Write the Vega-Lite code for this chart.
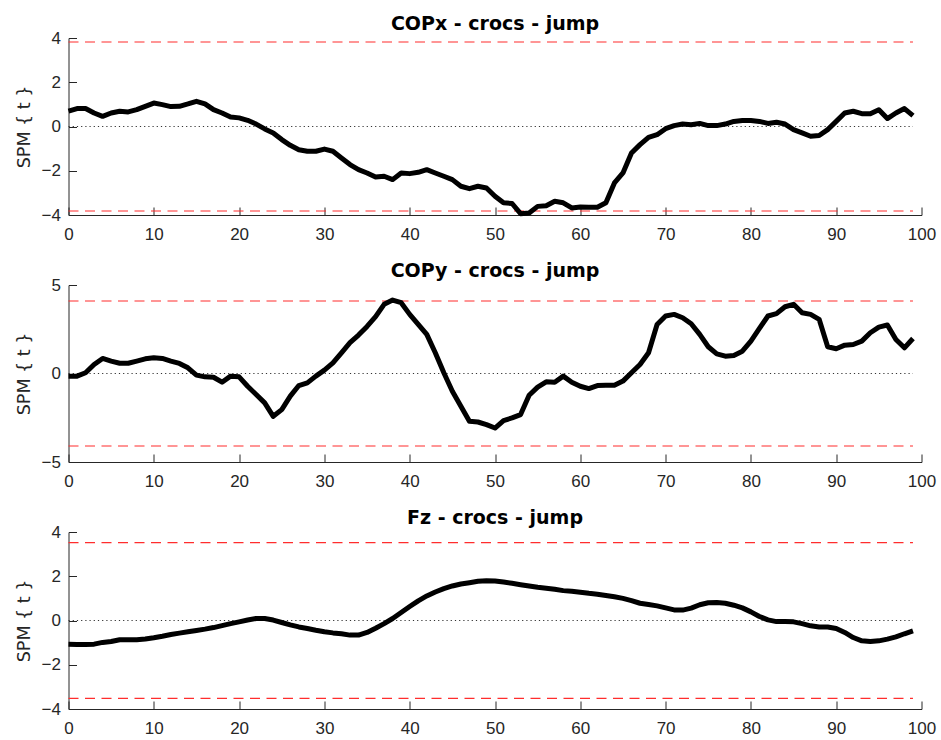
{
  "$schema": "https://vega.github.io/schema/vega-lite/v6.json",
  "background": "white",
  "padding": {"left": 15.5, "top": 14, "right": 5, "bottom": 3},
  "spacing": 70,
  "bounds": "flush",
  "config": {
    "view": {"stroke": null},
    "axis": {
      "grid": false,
      "labelFont": "Liberation Sans",
      "labelFontSize": 17,
      "labelColor": "#262626",
      "domainColor": "#262626",
      "domainWidth": 1,
      "tickColor": "#262626",
      "tickWidth": 1,
      "tickSize": -8,
      "labelFlush": false
    },
    "title": {"font": "DejaVu Sans", "fontSize": 19, "fontWeight": "bold", "color": "black", "offset": -4.8, "anchor": "middle", "frame": "group"}
  },
  "datasets": {
    "copx": [
      {"t":0,"v":0.69},{"t":1,"v":0.81},{"t":2,"v":0.81},{"t":3,"v":0.61},{"t":4,"v":0.46},{"t":5,"v":0.61},{"t":6,"v":0.69},{"t":7,"v":0.66},{"t":8,"v":0.76},{"t":9,"v":0.91},
      {"t":10,"v":1.06},{"t":11,"v":0.99},{"t":12,"v":0.90},{"t":13,"v":0.91},{"t":14,"v":1.02},{"t":15,"v":1.14},{"t":16,"v":1.02},{"t":17,"v":0.76},{"t":18,"v":0.61},{"t":19,"v":0.43},
      {"t":20,"v":0.39},{"t":21,"v":0.28},{"t":22,"v":0.11},{"t":23,"v":-0.11},{"t":24,"v":-0.29},{"t":25,"v":-0.59},{"t":26,"v":-0.85},{"t":27,"v":-1.05},{"t":28,"v":-1.12},{"t":29,"v":-1.12},
      {"t":30,"v":-1.02},{"t":31,"v":-1.12},{"t":32,"v":-1.42},{"t":33,"v":-1.72},{"t":34,"v":-1.95},{"t":35,"v":-2.10},{"t":36,"v":-2.28},{"t":37,"v":-2.25},{"t":38,"v":-2.40},{"t":39,"v":-2.10},
      {"t":40,"v":-2.13},{"t":41,"v":-2.07},{"t":42,"v":-1.95},{"t":43,"v":-2.10},{"t":44,"v":-2.25},{"t":45,"v":-2.40},{"t":46,"v":-2.70},{"t":47,"v":-2.81},{"t":48,"v":-2.70},{"t":49,"v":-2.78},
      {"t":50,"v":-3.15},{"t":51,"v":-3.45},{"t":52,"v":-3.48},{"t":53,"v":-3.94},{"t":54,"v":-3.91},{"t":55,"v":-3.61},{"t":56,"v":-3.58},{"t":57,"v":-3.38},{"t":58,"v":-3.45},{"t":59,"v":-3.68},
      {"t":60,"v":-3.64},{"t":61,"v":-3.65},{"t":62,"v":-3.65},{"t":63,"v":-3.45},{"t":64,"v":-2.55},{"t":65,"v":-2.10},{"t":66,"v":-1.20},{"t":67,"v":-0.82},{"t":68,"v":-0.49},{"t":69,"v":-0.37},
      {"t":70,"v":-0.10},{"t":71,"v":0.04},{"t":72,"v":0.11},{"t":73,"v":0.08},{"t":74,"v":0.14},{"t":75,"v":0.04},{"t":76,"v":0.04},{"t":77,"v":0.11},{"t":78,"v":0.23},{"t":79,"v":0.27},
      {"t":80,"v":0.27},{"t":81,"v":0.23},{"t":82,"v":0.14},{"t":83,"v":0.19},{"t":84,"v":0.11},{"t":85,"v":-0.14},{"t":86,"v":-0.29},{"t":87,"v":-0.44},{"t":88,"v":-0.41},{"t":89,"v":-0.14},
      {"t":90,"v":0.23},{"t":91,"v":0.61},{"t":92,"v":0.69},{"t":93,"v":0.58},{"t":94,"v":0.58},{"t":95,"v":0.76},{"t":96,"v":0.36},{"t":97,"v":0.61},{"t":98,"v":0.81},{"t":99,"v":0.49}
    ],
    "copy": [
      {"t":0,"v":-0.15},{"t":1,"v":-0.15},{"t":2,"v":0.04},{"t":3,"v":0.51},{"t":4,"v":0.85},{"t":5,"v":0.70},{"t":6,"v":0.58},{"t":7,"v":0.58},{"t":8,"v":0.70},{"t":9,"v":0.83},
      {"t":10,"v":0.89},{"t":11,"v":0.85},{"t":12,"v":0.70},{"t":13,"v":0.57},{"t":14,"v":0.32},{"t":15,"v":-0.09},{"t":16,"v":-0.19},{"t":17,"v":-0.21},{"t":18,"v":-0.49},{"t":19,"v":-0.15},
      {"t":20,"v":-0.19},{"t":21,"v":-0.72},{"t":22,"v":-1.19},{"t":23,"v":-1.66},{"t":24,"v":-2.42},{"t":25,"v":-2.04},{"t":26,"v":-1.28},{"t":27,"v":-0.68},{"t":28,"v":-0.53},{"t":29,"v":-0.15},
      {"t":30,"v":0.19},{"t":31,"v":0.60},{"t":32,"v":1.17},{"t":33,"v":1.74},{"t":34,"v":2.17},{"t":35,"v":2.66},{"t":36,"v":3.21},{"t":37,"v":3.91},{"t":38,"v":4.15},{"t":39,"v":4.00},
      {"t":40,"v":3.34},{"t":41,"v":2.77},{"t":42,"v":2.21},{"t":43,"v":1.17},{"t":44,"v":0.04},{"t":45,"v":-1.00},{"t":46,"v":-1.85},{"t":47,"v":-2.70},{"t":48,"v":-2.74},{"t":49,"v":-2.89},
      {"t":50,"v":-3.08},{"t":51,"v":-2.66},{"t":52,"v":-2.51},{"t":53,"v":-2.32},{"t":54,"v":-1.23},{"t":55,"v":-0.77},{"t":56,"v":-0.47},{"t":57,"v":-0.49},{"t":58,"v":-0.15},{"t":59,"v":-0.49},
      {"t":60,"v":-0.72},{"t":61,"v":-0.85},{"t":62,"v":-0.68},{"t":63,"v":-0.66},{"t":64,"v":-0.66},{"t":65,"v":-0.43},{"t":66,"v":0.04},{"t":67,"v":0.51},{"t":68,"v":1.17},{"t":69,"v":2.77},
      {"t":70,"v":3.25},{"t":71,"v":3.34},{"t":72,"v":3.15},{"t":73,"v":2.81},{"t":74,"v":2.21},{"t":75,"v":1.51},{"t":76,"v":1.11},{"t":77,"v":0.98},{"t":78,"v":1.02},{"t":79,"v":1.26},
      {"t":80,"v":1.83},{"t":81,"v":2.55},{"t":82,"v":3.25},{"t":83,"v":3.38},{"t":84,"v":3.77},{"t":85,"v":3.91},{"t":86,"v":3.43},{"t":87,"v":3.34},{"t":88,"v":3.06},{"t":89,"v":1.51},
      {"t":90,"v":1.40},{"t":91,"v":1.60},{"t":92,"v":1.64},{"t":93,"v":1.83},{"t":94,"v":2.30},{"t":95,"v":2.62},{"t":96,"v":2.74},{"t":97,"v":1.92},{"t":98,"v":1.45},{"t":99,"v":1.98}
    ],
    "fz": [
      {"t":0,"v":-1.07},{"t":1,"v":-1.08},{"t":2,"v":-1.08},{"t":3,"v":-1.07},{"t":4,"v":-0.99},{"t":5,"v":-0.95},{"t":6,"v":-0.87},{"t":7,"v":-0.87},{"t":8,"v":-0.87},{"t":9,"v":-0.84},
      {"t":10,"v":-0.78},{"t":11,"v":-0.71},{"t":12,"v":-0.63},{"t":13,"v":-0.57},{"t":14,"v":-0.51},{"t":15,"v":-0.45},{"t":16,"v":-0.39},{"t":17,"v":-0.32},{"t":18,"v":-0.23},{"t":19,"v":-0.14},
      {"t":20,"v":-0.06},{"t":21,"v":0.02},{"t":22,"v":0.09},{"t":23,"v":0.09},{"t":24,"v":0.02},{"t":25,"v":-0.09},{"t":26,"v":-0.20},{"t":27,"v":-0.29},{"t":28,"v":-0.36},{"t":29,"v":-0.44},
      {"t":30,"v":-0.51},{"t":31,"v":-0.56},{"t":32,"v":-0.60},{"t":33,"v":-0.66},{"t":34,"v":-0.66},{"t":35,"v":-0.54},{"t":36,"v":-0.35},{"t":37,"v":-0.14},{"t":38,"v":0.09},{"t":39,"v":0.36},
      {"t":40,"v":0.63},{"t":41,"v":0.89},{"t":42,"v":1.11},{"t":43,"v":1.29},{"t":44,"v":1.44},{"t":45,"v":1.56},{"t":46,"v":1.65},{"t":47,"v":1.71},{"t":48,"v":1.77},{"t":49,"v":1.80},
      {"t":50,"v":1.79},{"t":51,"v":1.74},{"t":52,"v":1.68},{"t":53,"v":1.62},{"t":54,"v":1.56},{"t":55,"v":1.50},{"t":56,"v":1.46},{"t":57,"v":1.41},{"t":58,"v":1.35},{"t":59,"v":1.32},
      {"t":60,"v":1.28},{"t":61,"v":1.23},{"t":62,"v":1.19},{"t":63,"v":1.13},{"t":64,"v":1.07},{"t":65,"v":1.00},{"t":66,"v":0.90},{"t":67,"v":0.78},{"t":68,"v":0.72},{"t":69,"v":0.66},
      {"t":70,"v":0.57},{"t":71,"v":0.48},{"t":72,"v":0.47},{"t":73,"v":0.56},{"t":74,"v":0.71},{"t":75,"v":0.80},{"t":76,"v":0.81},{"t":77,"v":0.78},{"t":78,"v":0.69},{"t":79,"v":0.57},
      {"t":80,"v":0.39},{"t":81,"v":0.18},{"t":82,"v":0.03},{"t":83,"v":-0.05},{"t":84,"v":-0.05},{"t":85,"v":-0.06},{"t":86,"v":-0.14},{"t":87,"v":-0.24},{"t":88,"v":-0.29},{"t":89,"v":-0.29},
      {"t":90,"v":-0.36},{"t":91,"v":-0.54},{"t":92,"v":-0.77},{"t":93,"v":-0.92},{"t":94,"v":-0.95},{"t":95,"v":-0.92},{"t":96,"v":-0.84},{"t":97,"v":-0.74},{"t":98,"v":-0.60},{"t":99,"v":-0.47}
    ],
    "thresh_copx": [{"t":0,"t2":99,"v":3.82},{"t":0,"t2":99,"v":-3.82}],
    "thresh_copy": [{"t":0,"t2":99,"v":4.1},{"t":0,"t2":99,"v":-4.1}],
    "thresh_fz": [{"t":0,"t2":99,"v":3.52},{"t":0,"t2":99,"v":-3.52}],
    "zero": [{"t":0,"t2":99,"v":0}]
  },
  "vconcat": [
    {
      "width": 853,
      "height": 177,
      "title": "COPx - crocs - jump",
      "encoding": {
        "x": {"field": "t", "type": "quantitative", "scale": {"domain": [0, 100], "nice": false},
              "axis": {"title": null, "values": [0,10,20,30,40,50,60,70,80,90,100], "labelPadding": 19.5}},
        "y": {"field": "v", "type": "quantitative", "scale": {"domain": [-4, 4], "nice": false},
              "axis": {"title": "SPM { t }", "values": [-4,-2,0,2,4], "labelPadding": 16,
                       "titleFont": "DejaVu Sans", "titleFontSize": 17.5, "titleFontWeight": "normal", "titleColor": "#262626",
                       "titleX": -35, "titleY": 88.5, "titleAngle": -90, "titleBaseline": "bottom", "titleAlign": "center"}}
      },
      "layer": [
        {
          "data": {"name": "thresh_copx"},
          "mark": {"type": "rule", "color": "#ff2d2d", "strokeWidth": 1.1, "strokeDash": [10, 6.5]},
          "encoding": {"x2": {"field": "t2"}}
        },
        {
          "data": {"name": "zero"},
          "mark": {"type": "rule", "color": "#333333", "strokeWidth": 1, "strokeDash": [1.2, 3]},
          "encoding": {"x2": {"field": "t2"}}
        },
        {
          "data": {"name": "copx"},
          "mark": {"type": "line", "color": "black", "strokeWidth": 5, "strokeJoin": "round", "strokeCap": "butt"}
        }
      ]
    },
    {
      "width": 853,
      "height": 177,
      "title": "COPy - crocs - jump",
      "encoding": {
        "x": {"field": "t", "type": "quantitative", "scale": {"domain": [0, 100], "nice": false},
              "axis": {"title": null, "values": [0,10,20,30,40,50,60,70,80,90,100], "labelPadding": 19.5}},
        "y": {"field": "v", "type": "quantitative", "scale": {"domain": [-5, 5], "nice": false},
              "axis": {"title": "SPM { t }", "values": [-5,0,5], "labelPadding": 16,
                       "titleFont": "DejaVu Sans", "titleFontSize": 17.5, "titleFontWeight": "normal", "titleColor": "#262626",
                       "titleX": -35, "titleY": 88.5, "titleAngle": -90, "titleBaseline": "bottom", "titleAlign": "center"}}
      },
      "layer": [
        {
          "data": {"name": "thresh_copy"},
          "mark": {"type": "rule", "color": "#ff2d2d", "strokeWidth": 1.1, "strokeDash": [10, 6.5]},
          "encoding": {"x2": {"field": "t2"}}
        },
        {
          "data": {"name": "zero"},
          "mark": {"type": "rule", "color": "#333333", "strokeWidth": 1, "strokeDash": [1.2, 3]},
          "encoding": {"x2": {"field": "t2"}}
        },
        {
          "data": {"name": "copy"},
          "mark": {"type": "line", "color": "black", "strokeWidth": 5, "strokeJoin": "round", "strokeCap": "butt"}
        }
      ]
    },
    {
      "width": 853,
      "height": 177,
      "title": "Fz - crocs - jump",
      "encoding": {
        "x": {"field": "t", "type": "quantitative", "scale": {"domain": [0, 100], "nice": false},
              "axis": {"title": null, "values": [0,10,20,30,40,50,60,70,80,90,100], "labelPadding": 19.5}},
        "y": {"field": "v", "type": "quantitative", "scale": {"domain": [-4, 4], "nice": false},
              "axis": {"title": "SPM { t }", "values": [-4,-2,0,2,4], "labelPadding": 16,
                       "titleFont": "DejaVu Sans", "titleFontSize": 17.5, "titleFontWeight": "normal", "titleColor": "#262626",
                       "titleX": -35, "titleY": 88.5, "titleAngle": -90, "titleBaseline": "bottom", "titleAlign": "center"}}
      },
      "layer": [
        {
          "data": {"name": "thresh_fz"},
          "mark": {"type": "rule", "color": "#ff2d2d", "strokeWidth": 1.1, "strokeDash": [10, 6.5]},
          "encoding": {"x2": {"field": "t2"}}
        },
        {
          "data": {"name": "zero"},
          "mark": {"type": "rule", "color": "#333333", "strokeWidth": 1, "strokeDash": [1.2, 3]},
          "encoding": {"x2": {"field": "t2"}}
        },
        {
          "data": {"name": "fz"},
          "mark": {"type": "line", "color": "black", "strokeWidth": 5, "strokeJoin": "round", "strokeCap": "butt"}
        }
      ]
    }
  ]
}
